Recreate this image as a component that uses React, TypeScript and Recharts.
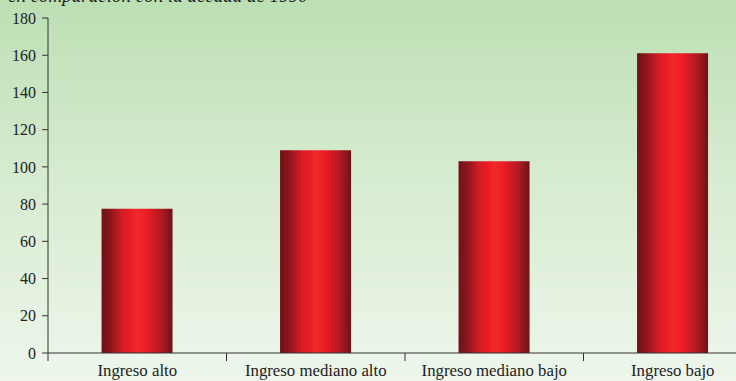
import React from 'react';
import { BarChart, Bar, XAxis, YAxis } from 'recharts';

// ---------------------------------------------------------------------------
// Data
// ---------------------------------------------------------------------------

const CATEGORIES = ['Ingreso alto', 'Ingreso mediano alto', 'Ingreso mediano bajo', 'Ingreso bajo'];
const VALUES = [77.5, 109, 103, 161];
const Y_TICKS = [0, 20, 40, 60, 80, 100, 120, 140, 160, 180];
const TITLE = 'en comparación con la década de 1990';

const data = CATEGORIES.map((name, i) => ({ name, value: VALUES[i] }));

// ---------------------------------------------------------------------------
// Layout
// ---------------------------------------------------------------------------

const CHART_W = 762;
const CHART_H = 381;
const Y_AXIS_W = 48;
const BAND = (CHART_W - Y_AXIS_W) / CATEGORIES.length;
const FONT = 'Liberation Serif, DejaVu Serif, serif';
const AXIS_COLOR = '#333';

// category label centred in its band, tick mark on the band's left edge
const CategoryTick = (props: any) => {
  const { x, y, payload } = props;
  const left = x - BAND / 2;
  return (
    <g>
      <line x1={left} y1={y - 8} x2={left} y2={y} stroke={AXIS_COLOR} strokeWidth={1} />
      <text
        x={x}
        y={y + 15}
        textAnchor="middle"
        fontFamily={FONT}
        style={{ fontFamily: FONT }}
        fontSize={16.8}
        fill="#222"
      >
        {payload.value}
      </text>
    </g>
  );
};

const App: React.FC = () => (
  <div
    style={{
      position: 'absolute',
      left: 0,
      top: 0,
      width: 736,
      height: 381,
      overflow: 'hidden',
      fontFamily: FONT,
      background: 'linear-gradient(to bottom, #bcdfb3 0%, #d6ebcf 45%, #eef6ec 100%)',
    }}
  >
    <div
      style={{
        position: 'absolute',
        left: 8,
        top: -15,
        fontFamily: FONT,
        fontStyle: 'italic',
        fontSize: 19,
        lineHeight: '22px',
        color: '#222',
        whiteSpace: 'nowrap',
      }}
    >
      {TITLE}
    </div>
    <BarChart
      width={CHART_W}
      height={CHART_H}
      data={data}
      margin={{ top: 18, right: 0, left: 0, bottom: 0 }}
      barCategoryGap="30%"
      style={{ fontFamily: FONT }}
    >
      <defs>
        <linearGradient id="barGrad" x1="0" y1="0" x2="1" y2="0">
          <stop offset="0%" stopColor="#6e1217" />
          <stop offset="12%" stopColor="#8a161c" />
          <stop offset="30%" stopColor="#d61d25" />
          <stop offset="42%" stopColor="#ec1c24" />
          <stop offset="50%" stopColor="#f02a2a" />
          <stop offset="64%" stopColor="#ec1c24" />
          <stop offset="84%" stopColor="#b01a22" />
          <stop offset="100%" stopColor="#6e1217" />
        </linearGradient>
      </defs>
      <XAxis
        dataKey="name"
        height={28}
        axisLine={{ stroke: AXIS_COLOR }}
        tickLine={false}
        tick={<CategoryTick />}
        interval={0}
      />
      <YAxis
        width={Y_AXIS_W}
        domain={[0, 180]}
        ticks={Y_TICKS}
        interval={0}
        axisLine={{ stroke: AXIS_COLOR }}
        tickLine={{ stroke: AXIS_COLOR }}
        tickSize={6}
        tickMargin={6}
        tick={{ fontFamily: FONT, fontSize: 16, fill: '#222', style: { fontFamily: FONT } }}
      />
      <Bar dataKey="value" fill="url(#barGrad)" isAnimationActive={false} />
    </BarChart>
  </div>
);

export default App;
